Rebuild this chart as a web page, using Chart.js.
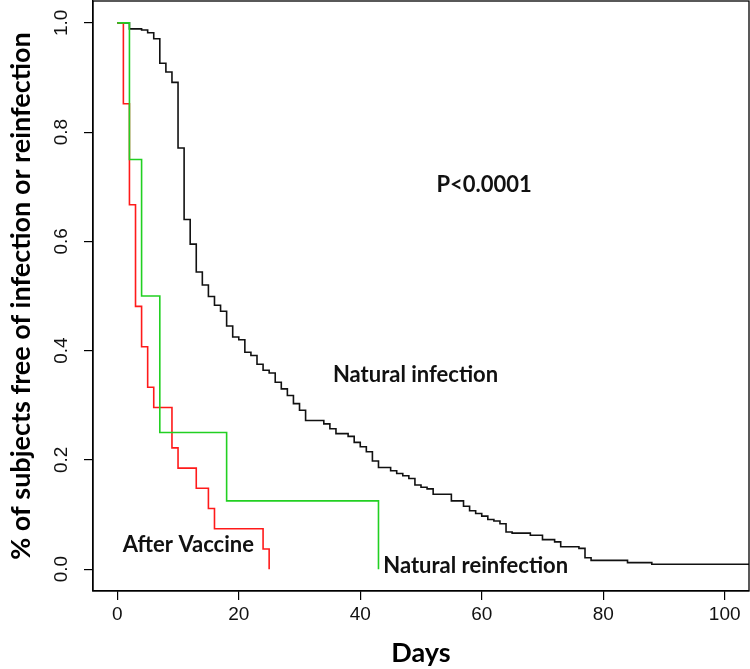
<!DOCTYPE html>
<html>
<head>
<meta charset="utf-8">
<script src="https://cdn.jsdelivr.net/npm/chart.js@4.4.1/dist/chart.umd.min.js"></script>
<style>
  html,body{margin:0;padding:0;background:#fff;}
  #km{display:block;}
</style>
</head>
<body>
<canvas id="km" width="750" height="669"></canvas>
<script>
/* ---------------- data ---------------- */
const xTicks = [0, 20, 40, 60, 80, 100];
const yTicks = [0, 0.2, 0.4, 0.6, 0.8, 1.0];

// Natural infection (black)
const infDays = [0,2,4,5,6,7,8,9,10,11,12,13,14,15,16,17,18,19,20,21,22,23,24,25,26,27,28,29,30,31,
                 34,35,36,38,39,40,41,42,43,45,46,47,48,49,50,51,52,55,57,58,59,60,61,62,63,64,65,
                 68,70,72,73,76,77,78,84,88,104];
const infSurv = [1,0.989,0.987,0.982,0.971,0.926,0.910,0.891,0.771,0.640,0.595,0.544,0.520,0.499,0.483,
                 0.472,0.445,0.425,0.420,0.397,0.391,0.375,0.364,0.359,0.342,0.330,0.318,0.303,0.291,0.272,
                 0.266,0.257,0.248,0.243,0.232,0.224,0.215,0.198,0.186,0.180,0.175,0.171,0.166,0.154,0.150,
                 0.147,0.137,0.125,0.115,0.107,0.102,0.097,0.091,0.088,0.083,0.068,0.066,
                 0.062,0.054,0.050,0.041,0.038,0.021,0.016,0.012,0.009,0.009];

// Natural reinfection (green)
const reinfDays = [0, 2, 4, 7, 18, 43];
const reinfSurv = [1, 0.75, 0.5, 0.25, 0.125, 0];

// After vaccine (red)
const vacDays = [0, 1, 2, 3, 4, 5, 6, 9, 10, 13, 15, 16, 24, 25];
const vacSurv = [1, 0.852, 0.667, 0.481, 0.407, 0.333, 0.296, 0.222, 0.185, 0.148, 0.111, 0.074, 0.037, 0];

/* ---------------- helpers ---------------- */
const pts = (xs, ys) => xs.map((x, i) => ({x, y: ys[i]}));
const kmLine = (xs, ys, col) => ({
  data: pts(xs, ys), showLine: true, stepped: 'before',
  borderColor: col, borderWidth: 1.6, pointRadius: 0, fill: false
});

// outer box, like R's box()
const boxPlugin = {
  id: 'box',
  afterDraw(chart){
    const {ctx, chartArea:a} = chart;
    ctx.save();
    ctx.strokeStyle = '#000'; ctx.lineWidth = 1.3;
    ctx.strokeRect(a.left, a.top, a.right - a.left, a.bottom - a.top);
    ctx.restore();
  }
};

// text annotations placed in data space
const notesPlugin = {
  id: 'notes',
  afterDraw(chart){
    const {ctx, scales:{x, y}} = chart;
    const notes = [
      ['P<0.0001',            60.4, 0.690],
      ['Natural infection',   49.1, 0.342],
      ['After Vaccine',       11.7, 0.031],
      ['Natural reinfection', 59.0, -0.007]
    ];
    ctx.save();
    ctx.fillStyle = '#111';
    ctx.font = 'bold 22px Lato';
    ctx.textAlign = 'center';
    ctx.textBaseline = 'alphabetic';
    notes.forEach(([t, dx, dy]) => ctx.fillText(t, x.getPixelForValue(dx), y.getPixelForValue(dy)));
    ctx.restore();
  }
};

/* ---------------- chart ---------------- */
const tickFont = {family: 'Liberation Sans', size: 19};

new Chart(document.getElementById('km'), {
  type: 'scatter',
  data: {
    datasets: [
      kmLine(reinfDays, reinfSurv, '#22d022'),
      kmLine(vacDays, vacSurv, '#ff1a1a'),
      kmLine(infDays, infSurv, '#111')
    ]
  },
  options: {
    responsive: false,
    animation: false,
    devicePixelRatio: 1,
    layout: {padding: {top: 1, right: 1, left: 0, bottom: 0}},
    plugins: {legend: {display: false}, tooltip: {enabled: false}},
    scales: {
      x: {
        type: 'linear', min: -4, max: 104,
        afterBuildTicks: s => { s.ticks = xTicks.map(v => ({value: v})); },
        afterFit: s => { s.height = 78; s.paddingLeft = 0; s.paddingRight = 0; },
        grid: {drawOnChartArea: false, drawTicks: true, tickLength: 9, color: '#000', lineWidth: 1.2},
        border: {display: true, color: '#000', width: 1.3},
        ticks: {font: tickFont, color: '#111', padding: 3, maxRotation: 0, autoSkip: false},
        title: {display: true, text: 'Days', color: '#000',
                font: {family: 'Lato', weight: 'bold', size: 27}, padding: {top: 0, bottom: 0}}
      },
      y: {
        min: -0.04, max: 1.04,
        afterBuildTicks: s => { s.ticks = yTicks.map(v => ({value: v})); },
        afterFit: s => { s.width = 93; s.paddingTop = 0; s.paddingBottom = 0; },
        grid: {drawOnChartArea: false, drawTicks: true, tickLength: 9, color: '#000', lineWidth: 1.2},
        border: {display: true, color: '#000', width: 1.3},
        ticks: {font: tickFont, color: '#111', padding: 9, minRotation: 90, maxRotation: 90,
                crossAlign: 'center', callback: v => v.toFixed(1)},
        title: {display: true, text: '% of subjects free of infection or reinfection', color: '#000',
                font: {family: 'Lato', weight: 'bold', size: 27}, padding: {top: 5, bottom: 0}}
      }
    }
  },
  plugins: [boxPlugin, notesPlugin]
});
</script>
</body>
</html>
